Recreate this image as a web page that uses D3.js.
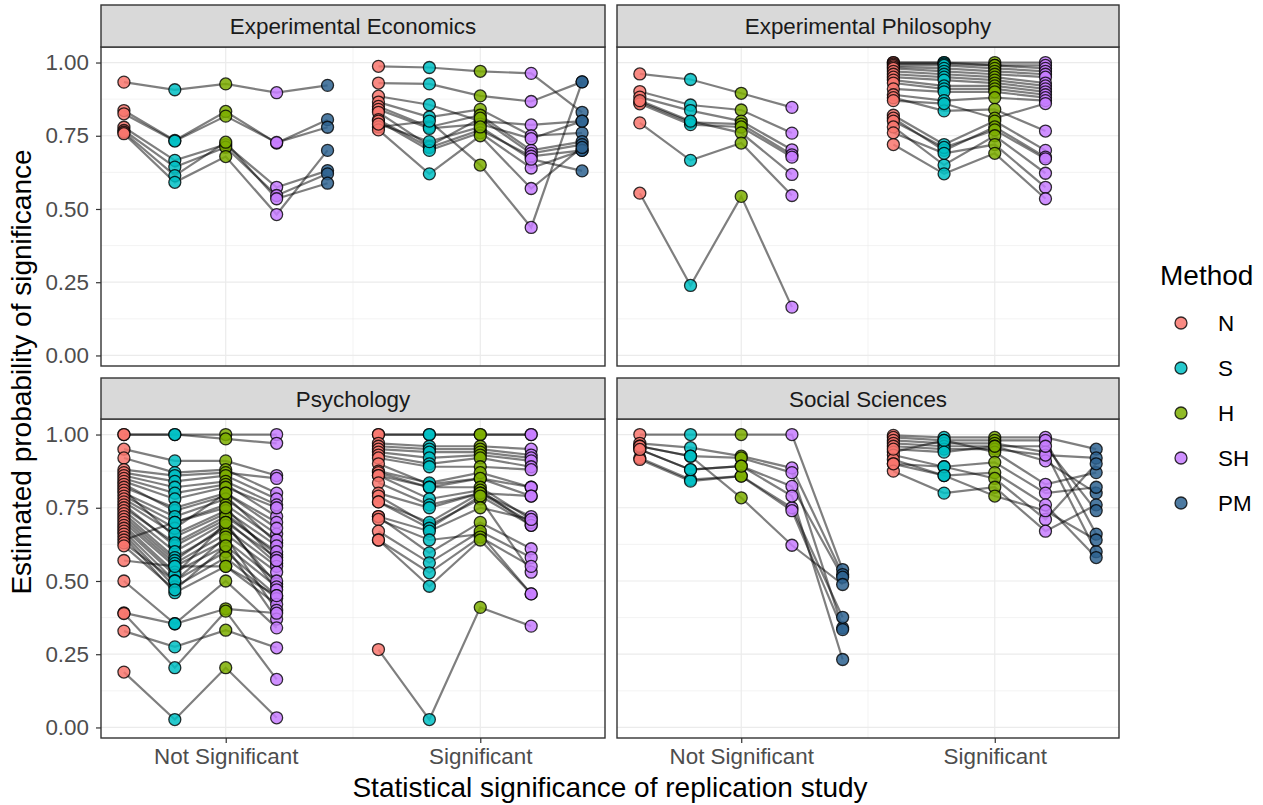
<!DOCTYPE html>
<html><head><meta charset="utf-8">
<script src="https://cdn.jsdelivr.net/npm/d3@7"></script>
<style>body{margin:0;background:#fff}</style>
</head><body><svg id="chart" width="1263" height="805"></svg>
<script>
const methods = ["N", "S", "H", "SH", "PM"];
const methodColors = ["#F8766D", "#00BFC4", "#7CAE00", "#C77CFF", "#2E6391"];
const replicationLevels = ["Not Significant", "Significant"];
const fields = ["Experimental Economics", "Experimental Philosophy", "Psychology", "Social Sciences"];
const yTicks = [0, 0.25, 0.5, 0.75, 1];
const yTickLabels = ["0.00", "0.25", "0.50", "0.75", "1.00"];

// One row per study: estimated probability for N, S, H, SH, PM (null = not estimated)
const econNotSig = [
  [0.933, 0.907, 0.927, 0.897, 0.922],
  [0.836, 0.734, 0.833, 0.725, 0.805],
  [0.825, 0.732, 0.817, 0.727, 0.779],
  [0.779, 0.666, 0.720, 0.574, 0.631],
  [0.768, 0.643, 0.711, 0.546, 0.620],
  [0.762, 0.614, 0.728, 0.535, 0.588],
  [0.757, 0.591, 0.679, 0.481, 0.700]
];
const econSig = [
  [0.987, 0.983, 0.970, 0.963, 0.830],
  [0.930, 0.927, 0.886, 0.867, 0.934],
  [0.885, 0.856, 0.800, 0.787, 0.800],
  [0.865, 0.814, 0.840, 0.750, 0.760],
  [0.850, 0.780, 0.820, 0.700, 0.730],
  [0.840, 0.775, 0.790, 0.740, 0.800],
  [0.830, 0.715, 0.810, 0.690, 0.720],
  [0.805, 0.710, 0.770, 0.680, 0.700],
  [0.800, 0.700, 0.760, 0.640, 0.700],
  [0.780, 0.800, 0.650, 0.437, 0.934],
  [0.770, 0.620, 0.750, 0.570, 0.710],
  [0.790, 0.730, 0.780, 0.670, 0.630]
];
const philNotSig = [
  [0.961, 0.942, 0.895, 0.847, null],
  [0.901, 0.855, 0.838, 0.759, null],
  [0.882, 0.836, 0.800, 0.702, null],
  [0.865, 0.796, 0.790, 0.685, null],
  [0.859, 0.788, 0.780, 0.677, null],
  [0.870, 0.800, 0.760, 0.618, null],
  [0.794, 0.666, 0.725, 0.546, null],
  [0.554, 0.239, 0.543, 0.165, null]
];
const philSig = [
  [1.000, 1.000, 1.000, 1.000, null],
  [1.000, 1.000, 0.990, 0.990, null],
  [0.995, 0.995, 0.990, 0.980, null],
  [0.990, 0.990, 0.980, 0.970, null],
  [0.985, 0.980, 0.970, 0.960, null],
  [0.980, 0.970, 0.960, 0.950, null],
  [0.970, 0.960, 0.950, 0.930, null],
  [0.960, 0.950, 0.940, 0.920, null],
  [0.950, 0.940, 0.930, 0.910, null],
  [0.940, 0.920, 0.920, 0.900, null],
  [0.930, 0.910, 0.910, 0.890, null],
  [0.910, 0.900, 0.900, 0.880, null],
  [0.890, 0.870, 0.880, 0.870, null],
  [0.880, 0.835, 0.840, 0.766, null],
  [0.870, 0.860, 0.810, 0.860, null],
  [0.820, 0.720, 0.800, 0.700, null],
  [0.810, 0.700, 0.780, 0.677, null],
  [0.800, 0.710, 0.770, 0.671, null],
  [0.780, 0.650, 0.750, 0.622, null],
  [0.760, 0.690, 0.720, 0.574, null],
  [0.720, 0.620, 0.690, 0.535, null]
];
const psychNotSig = [
  [1.000, 1.000, 1.000, 1.000, null],
  [1.000, 1.000, 0.985, 0.970, null],
  [0.950, 0.910, 0.910, 0.860, null],
  [0.920, 0.870, 0.880, 0.800, null],
  [0.880, 0.860, 0.870, 0.850, null],
  [0.870, 0.840, 0.860, 0.780, null],
  [0.860, 0.820, 0.840, 0.760, null],
  [0.850, 0.800, 0.830, 0.720, null],
  [0.840, 0.780, 0.820, 0.750, null],
  [0.830, 0.740, 0.790, 0.630, null],
  [0.820, 0.750, 0.800, 0.700, null],
  [0.810, 0.650, 0.730, 0.590, null],
  [0.800, 0.720, 0.780, 0.660, null],
  [0.790, 0.700, 0.760, 0.640, null],
  [0.780, 0.680, 0.800, 0.680, null],
  [0.770, 0.660, 0.740, 0.620, null],
  [0.760, 0.620, 0.710, 0.560, null],
  [0.750, 0.630, 0.720, 0.600, null],
  [0.740, 0.600, 0.700, 0.580, null],
  [0.730, 0.580, 0.680, 0.550, null],
  [0.720, 0.570, 0.690, 0.490, null],
  [0.710, 0.560, 0.660, 0.530, null],
  [0.700, 0.550, 0.640, 0.500, null],
  [0.690, 0.530, 0.620, 0.480, null],
  [0.680, 0.520, 0.700, 0.470, null],
  [0.670, 0.500, 0.600, 0.450, null],
  [0.660, 0.480, 0.580, 0.440, null],
  [0.650, 0.460, 0.550, 0.420, null],
  [0.640, 0.700, 0.750, 0.570, null],
  [0.630, 0.500, 0.650, 0.400, null],
  [0.620, 0.470, 0.620, 0.370, null],
  [0.570, 0.550, 0.550, 0.450, null],
  [0.500, 0.354, 0.500, 0.340, null],
  [0.391, 0.354, 0.405, 0.390, null],
  [0.389, 0.204, 0.397, 0.164, null],
  [0.329, 0.275, 0.332, 0.272, null],
  [0.189, 0.027, 0.204, 0.033, null]
];
const psychSig = [
  [1.000, 1.000, 1.000, 1.000, null],
  [1.000, 1.000, 1.000, 1.000, null],
  [0.970, 0.960, 0.960, 0.950, null],
  [0.960, 0.950, 0.950, 0.930, null],
  [0.950, 0.940, 0.940, 0.920, null],
  [0.940, 0.920, 0.930, 0.910, null],
  [0.930, 0.900, 0.920, 0.890, null],
  [0.920, 0.890, 0.890, 0.880, null],
  [0.900, 0.830, 0.850, 0.820, null],
  [0.875, 0.835, 0.870, 0.820, null],
  [0.870, 0.820, 0.850, 0.790, null],
  [0.860, 0.820, 0.820, 0.710, null],
  [0.860, 0.780, 0.810, 0.690, null],
  [0.835, 0.760, 0.800, 0.790, null],
  [0.800, 0.750, 0.800, 0.720, null],
  [0.790, 0.690, 0.780, 0.530, null],
  [0.770, 0.700, 0.800, 0.700, null],
  [0.770, 0.680, 0.790, 0.690, null],
  [0.720, 0.670, 0.750, 0.710, null],
  [0.720, 0.596, 0.700, 0.610, null],
  [0.710, 0.640, 0.660, 0.456, null],
  [0.670, 0.562, 0.670, 0.580, null],
  [0.640, 0.528, 0.650, 0.550, null],
  [0.640, 0.482, 0.640, 0.456, null],
  [0.266, 0.027, 0.410, 0.346, null]
];
const socNotSig = [
  [1.000, 1.000, 1.000, 1.000, 0.539],
  [0.970, 0.955, 0.926, 0.886, 0.522],
  [0.960, 0.926, 0.920, 0.870, 0.340],
  [0.949, 0.880, 0.892, 0.823, 0.513],
  [0.920, 0.846, 0.858, 0.750, 0.376],
  [0.915, 0.841, 0.858, 0.740, 0.334],
  [0.960, 0.926, 0.784, 0.622, 0.488],
  [0.949, 0.880, 0.892, 0.790, 0.232]
];
const socSig = [
  [0.997, 0.990, 0.990, 0.990, 0.950],
  [0.990, 0.980, 0.980, 0.980, 0.660],
  [0.980, 0.970, 0.970, 0.940, 0.600],
  [0.970, 0.960, 0.960, 0.910, 0.800],
  [0.960, 0.950, 0.950, 0.930, 0.920],
  [0.940, 0.980, 0.940, 0.830, 0.870],
  [0.930, 0.890, 0.905, 0.800, 0.820],
  [0.915, 0.860, 0.870, 0.760, 0.580],
  [0.900, 0.890, 0.850, 0.710, 0.900],
  [0.875, 0.800, 0.820, 0.670, 0.760],
  [0.900, 0.860, 0.790, 0.740, 0.640],
  [0.950, 0.940, 0.960, 0.960, 0.740]
];

const panelData = [
  [econNotSig, econSig],
  [philNotSig, philSig],
  [psychNotSig, psychSig],
  [socNotSig, socSig]
];

const svg = d3.select("#chart");
const colLeft = [101, 617], colRight = [605, 1119];
const rowStrip = [5, 378], rowTop = [47, 419], rowBottom = [366, 738];
const dodge = 0.2;
const fontFamily = "'Liberation Sans', Arial, Helvetica, sans-serif";
const smallFont = 22.4, bigFont = 28;
const pointR = 6;

fields.forEach((field, p) => {
  const col = p % 2, row = Math.floor(p / 2);
  const left = colLeft[col], right = colRight[col];
  const top = rowTop[row], bottom = rowBottom[row];

  const x = d3.scaleLinear().domain([0.51, 2.49]).range([left, right]);
  const y = d3.scaleLinear().domain([-0.036, 1.053]).range([bottom, top]);

  const g = svg.append("g");
  // grid
  const minorY = d3.range(0.125, 1, 0.25);
  g.selectAll(".gmy").data(minorY).join("line")
    .attr("x1", left).attr("x2", right).attr("y1", d => y(d)).attr("y2", d => y(d))
    .attr("stroke", "#EBEBEB").attr("stroke-width", 0.6);
  g.append("line").attr("x1", x(1.5)).attr("x2", x(1.5)).attr("y1", top).attr("y2", bottom)
    .attr("stroke", "#EBEBEB").attr("stroke-width", 0.6);
  g.selectAll(".gy").data(yTicks).join("line")
    .attr("x1", left).attr("x2", right).attr("y1", d => y(d)).attr("y2", d => y(d))
    .attr("stroke", "#EBEBEB").attr("stroke-width", 1.2);
  g.selectAll(".gx").data([1, 2]).join("line")
    .attr("x1", d => x(d)).attr("x2", d => x(d)).attr("y1", top).attr("y2", bottom)
    .attr("stroke", "#EBEBEB").attr("stroke-width", 1.2);

  // study lines and points
  const line = d3.line().defined(d => d.v != null).x(d => x(d.x)).y(d => y(d.v));
  panelData[p].forEach((studies, c) => {
    const rows = studies.map(vals => vals.map((v, m) => ({ x: c + 1 + (m - 2) * dodge, v, m })));
    g.append("g").selectAll("path").data(rows).join("path")
      .attr("d", line).attr("fill", "none")
      .attr("stroke", "#000").attr("stroke-opacity", 0.5).attr("stroke-width", 2.2);
  });
  panelData[p].forEach((studies, c) => {
    const pts = [];
    methods.forEach((m, mi) => studies.forEach(vals => {
      if (vals[mi] != null) pts.push({ x: c + 1 + (mi - 2) * dodge, v: vals[mi], m: mi });
    }));
    g.append("g").selectAll("circle").data(pts).join("circle")
      .attr("cx", d => x(d.x)).attr("cy", d => y(d.v)).attr("r", pointR)
      .attr("fill", d => methodColors[d.m]).attr("fill-opacity", 0.85)
      .attr("stroke", "#000").attr("stroke-opacity", 0.8).attr("stroke-width", 1.3);
  });

  // panel border
  g.append("rect").attr("x", left).attr("y", top).attr("width", right - left).attr("height", bottom - top)
    .attr("fill", "none").attr("stroke", "#333333").attr("stroke-width", 1.4);
  // strip
  g.append("rect").attr("x", left).attr("y", rowStrip[row]).attr("width", right - left).attr("height", top - rowStrip[row])
    .attr("fill", "#D9D9D9").attr("stroke", "#333333").attr("stroke-width", 1.4);
  g.append("text").attr("x", (left + right) / 2).attr("y", (rowStrip[row] + top) / 2 + 8)
    .attr("text-anchor", "middle").attr("font-family", fontFamily).attr("font-size", smallFont)
    .attr("fill", "#1A1A1A").text(field);

  // y axis on left column
  if (col === 0) {
    const ya = g.append("g").attr("transform", `translate(${left},0)`)
      .call(d3.axisLeft(y).tickValues(yTicks).tickFormat((d, i) => yTickLabels[i]).tickSize(5).tickPadding(7));
    ya.select(".domain").remove();
    ya.selectAll("line").attr("stroke", "#333333").attr("stroke-width", 1.2);
    ya.selectAll("text").attr("font-family", fontFamily).attr("font-size", smallFont).attr("fill", "#4D4D4D");
  }
  // x axis on bottom row
  if (row === 1) {
    const xa = g.append("g").attr("transform", `translate(0,${bottom})`)
      .call(d3.axisBottom(x).tickValues([1, 2]).tickFormat((d, i) => replicationLevels[i]).tickSize(5).tickPadding(5));
    xa.select(".domain").remove();
    xa.selectAll("line").attr("stroke", "#333333").attr("stroke-width", 1.2);
    xa.selectAll("text").attr("font-family", fontFamily).attr("font-size", smallFont).attr("fill", "#4D4D4D");
  }
});

// axis titles
svg.append("text").attr("x", (101 + 1119) / 2).attr("y", 797).attr("text-anchor", "middle")
  .attr("font-family", fontFamily).attr("font-size", bigFont).attr("fill", "#000")
  .text("Statistical significance of replication study");
svg.append("text").attr("transform", "translate(31,372) rotate(-90)").attr("text-anchor", "middle")
  .attr("font-family", fontFamily).attr("font-size", bigFont).attr("fill", "#000")
  .text("Estimated probability of significance");

// legend
const legend = svg.append("g");
legend.append("text").attr("x", 1160).attr("y", 285).attr("font-family", fontFamily)
  .attr("font-size", bigFont).attr("fill", "#000").text("Method");
const keys = legend.selectAll("g.key").data(methods).join("g")
  .attr("transform", (d, i) => `translate(1181,${323 + i * 45})`);
keys.append("circle").attr("r", pointR).attr("fill", (d, i) => methodColors[i]).attr("fill-opacity", 0.85)
  .attr("stroke", "#000").attr("stroke-opacity", 0.8).attr("stroke-width", 1.3);
keys.append("text").attr("x", 37).attr("y", 8).attr("font-family", fontFamily)
  .attr("font-size", smallFont).attr("fill", "#000").text(d => d);
</script></body></html>
